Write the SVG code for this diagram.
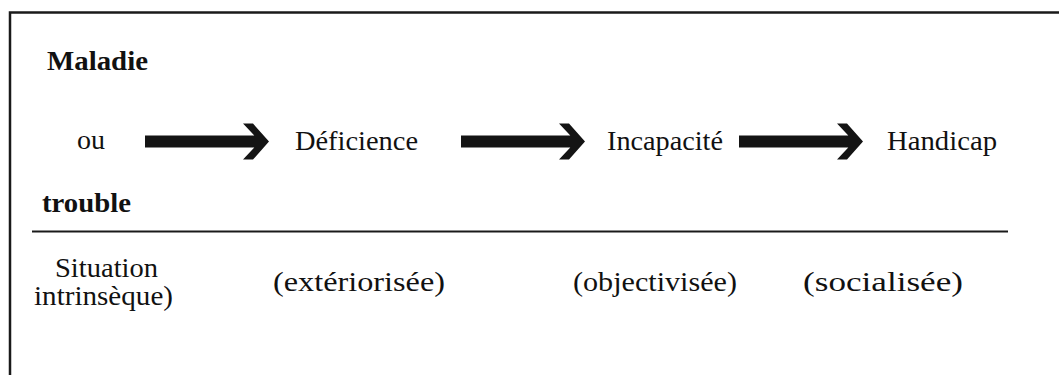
<svg xmlns="http://www.w3.org/2000/svg" xmlns:xlink="http://www.w3.org/1999/xlink" width="1059" height="375" viewBox="0 0 1059 375">
  <style>
    .t { font-family: 'Liberation Serif', 'Times New Roman', serif; font-size: 28px; fill: #111111; }
    .bold { font-weight: bold; }
    .frame { stroke: #1a1a1a; stroke-width: 2.5; fill: none; }
    .rule { stroke: #1a1a1a; stroke-width: 2; }
    .arrow { fill: #141414; }
  </style>
  <defs>
    <!-- thick block arrow, 124 px long, tip at x=124 -->
    <path id="arr" class="arrow" d="M0,135.5 H109.3 L98,123.5 H108 L124,141.5 L108,159.5 H98 L109.3,147.5 H0 Z"/>
  </defs>

  <rect width="1059" height="375" fill="#ffffff"/>

  <!-- open frame: top and left edges -->
  <path class="frame" d="M10,375 V12.5 H1059"/>

  <!-- separator under the chain -->
  <line class="rule" x1="32" y1="231.5" x2="1008" y2="231.5"/>

  <g id="node-maladie">
    <text class="t bold" x="47" y="70" textLength="101" lengthAdjust="spacingAndGlyphs">Maladie</text>
    <text class="t" x="77" y="149" textLength="28" lengthAdjust="spacingAndGlyphs">ou</text>
    <text class="t bold" x="42" y="211.5" textLength="89" lengthAdjust="spacingAndGlyphs">trouble</text>
  </g>

  <g id="node-deficience">
    <text class="t" x="295" y="149.5" textLength="123" lengthAdjust="spacingAndGlyphs">Déficience</text>
  </g>

  <g id="node-incapacite">
    <text class="t" x="607" y="149.5" textLength="116" lengthAdjust="spacingAndGlyphs">Incapacité</text>
  </g>

  <g id="node-handicap">
    <text class="t" x="887" y="149.5" textLength="110" lengthAdjust="spacingAndGlyphs">Handicap</text>
  </g>

  <g id="labels">
    <text class="t" x="55" y="276.5" textLength="103" lengthAdjust="spacingAndGlyphs">Situation</text>
    <text class="t" x="34" y="305" textLength="139" lengthAdjust="spacingAndGlyphs">intrinsèque)</text>
    <text class="t" x="273" y="291" textLength="172" lengthAdjust="spacingAndGlyphs">(extériorisée)</text>
    <text class="t" x="573" y="291" textLength="164" lengthAdjust="spacingAndGlyphs">(objectivisée)</text>
    <text class="t" x="803" y="291" textLength="160" lengthAdjust="spacingAndGlyphs">(socialisée)</text>
  </g>

  <g id="connectors">
    <use xlink:href="#arr" transform="translate(145,0)"/>
    <use xlink:href="#arr" transform="translate(461,0)"/>
    <use xlink:href="#arr" transform="translate(739,0)"/>
  </g>
</svg>
